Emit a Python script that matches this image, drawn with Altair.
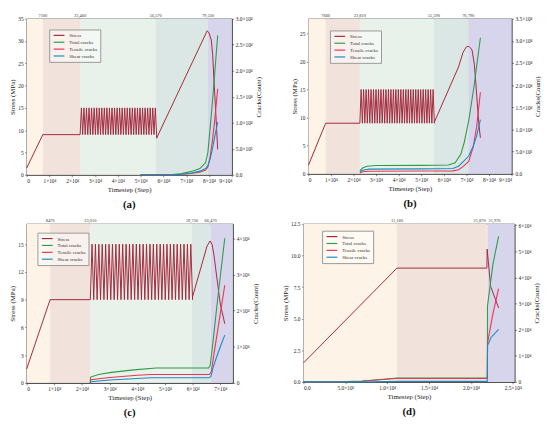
import altair as alt
import pandas as pd

FONT = "Liberation Serif"
SERIES = ["Stress", "Total cracks", "Tensile cracks", "Shear cracks"]
SERIES_COLORS = ["#a3283b", "#2f9c47", "#ec3451", "#1b8bc2"]
PEACH, BROWN, GREEN, TEAL, LAV = "#fdf4e7", "#f2e2dc", "#e9f1eb", "#dbe7e4", "#d7d5ec"

# ---------------- panel (a) ----------------
A_BOUNDS = [0, 7100, 23460, 56570, 79530, 90000]
A_BANDS = [PEACH, BROWN, GREEN, TEAL, LAV]
A_TOP_LABELS = ["7100", "23,460", "56,570", "79,530"]
A_TOP_ALIGN = ["center", "center", "center", "center"]
A_STRESS_PRE_X = [0, 7100, 23460]
A_STRESS_PRE_Y = [1.5, 9, 9]
A_CYCLES = [30, 9, 15]  # number of load cycles, trough, peak (MPa)
A_STRESS_POST_X = [57000, 79200, 80000, 81000, 81600, 82200, 83000, 83800]
A_STRESS_POST_Y = [8.2, 32.3, 31.8, 30.2, 27, 21, 13.5, 5.7]
A_CRACK_X = [50000, 60000, 64000, 68000, 72000, 76000, 78500, 79500, 80500, 81500, 82500, 83800]
A_TOTAL = [0, 0, 50, 250, 600, 1200, 2300, 4300, 9000, 14000, 19500, 26800]
A_TENSILE = [0, 0, 20, 100, 250, 500, 900, 1500, 3500, 6500, 10500, 16500]
A_SHEAR = [0, 0, 20, 100, 300, 700, 1200, 1800, 3000, 5000, 7300, 10100]

# ---------------- panel (b) ----------------
B_BOUNDS = [0, 7660, 22810, 55590, 70790, 90000]
B_BANDS = [PEACH, BROWN, GREEN, TEAL, LAV]
B_TOP_LABELS = ["7660", "22,810", "55,590", "70,790"]
B_TOP_ALIGN = ["center", "center", "center", "center"]
B_STRESS_PRE_X = [0, 7660, 22810]
B_STRESS_PRE_Y = [1.5, 9, 9]
B_CYCLES = [30, 9, 15]
B_STRESS_POST_X = [55800, 66500, 68500, 70000, 71000, 72000, 72500, 73500, 74200, 75000, 75600, 76200]
B_STRESS_POST_Y = [9.2, 19.0, 21.6, 22.6, 22.7, 22.3, 22.0, 19.5, 16, 11.5, 8.5, 6.4]
B_TOTAL_X = [22810, 24000, 26000, 30000, 50000, 62000, 65000, 67500, 69000, 71100, 73300, 76200]
B_TOTAL = [700, 1300, 1700, 1850, 1900, 2000, 2500, 4400, 7000, 12200, 19500, 30700]
B_SPLIT_X = [22810, 24000, 27000, 50000, 64000, 66500, 68500, 71000, 73000, 74500, 76200]
B_TENSILE = [200, 450, 580, 620, 650, 900, 1600, 2800, 6000, 10500, 18400]
B_SHEAR = [400, 800, 1050, 1100, 1200, 1700, 2700, 4000, 6200, 8500, 12200]

# ---------------- panel (c) ----------------
C_BOUNDS = [0, 8470, 23010, 59750, 66470, 74500]
C_BANDS = [PEACH, BROWN, GREEN, TEAL, LAV]
C_TOP_LABELS = ["8470", "23,010", "59,750", "66,470"]
C_TOP_ALIGN = ["center", "center", "center", "center"]
C_STRESS_PRE_X = [0, 8470, 23010]
C_STRESS_PRE_Y = [1.5, 9, 9]
C_CYCLES = [30, 9, 15]
C_STRESS_POST_X = [59950, 65200, 66300, 67000, 67700, 68900, 70000, 71600]
C_STRESS_POST_Y = [9.3, 14.8, 15.35, 15.0, 13.8, 11, 8.5, 6.4]
C_TOTAL_X = [23010, 23100, 26000, 30600, 38700, 46800, 65800, 66300, 67000, 69000, 71600]
C_TOTAL = [0, 1600, 2300, 2900, 3600, 4100, 4100, 4800, 9000, 23000, 40000]
C_TENSILE_X = [23010, 23100, 30000, 40000, 45000, 66000, 66700, 67700, 69400, 71600]
C_TENSILE = [0, 900, 1500, 2100, 2300, 2300, 3000, 8000, 16300, 27000]
C_SHEAR_X = [23010, 23100, 30000, 40000, 45000, 66000, 66600, 67300, 68300, 70000, 71600]
C_SHEAR = [0, 300, 800, 1200, 1400, 1400, 1800, 4000, 6400, 10000, 13200]

# ---------------- panel (d) ----------------
D_BOUNDS = [0, 11160, 21870, 21970, 25200]
D_BANDS = [PEACH, BROWN, BROWN, LAV]
D_TOP_LABELS = ["11,160", "21,870", "21,970"]
D_TOP_ALIGN = ["center", "right", "left"]
D_STRESS_PRE_X = [0, 11160, 21900]
D_STRESS_PRE_Y = [1.5, 9, 9]
D_CYCLES = [0, 9, 9]
D_STRESS_POST_X = [21930, 22350, 23300]
D_STRESS_POST_Y = [10.5, 7.55, 5.85]
D_TOTAL_X = [0, 4000, 7000, 9500, 11160, 21950, 21970, 22620, 23300]
D_TOTAL = [0, 0, 300, 1000, 1500, 1500, 29000, 45000, 55700]
D_TENSILE_X = [0, 4000, 7000, 9500, 11160, 21950, 21980, 22620, 23300]
D_TENSILE = [0, 0, 250, 900, 1300, 1300, 15000, 26000, 35700]
D_SHEAR_X = [0, 8000, 11160, 21950, 21980, 22400, 23300]
D_SHEAR = [0, 0, 200, 200, 14000, 17000, 20100]

LBL_E3E4 = ("datum.value == 0 ? '0.0' : datum.value < 10000 ? "
            "format(datum.value / 1000, '.1f') + '×10³' : format(datum.value / 10000, '.1f') + '×10⁴'")
LBL_E4 = "datum.value == 0 ? '0' : format(datum.value / 10000, 'd') + '×10⁴'"


def stress_frame(pre_x, pre_y, cyc, post_x, post_y):
    xs, ys = list(pre_x), list(pre_y)
    n, lo, hi = cyc
    if n:
        x0, x1 = pre_x[-1], post_x[0]
        T = (x1 - x0) / n
        for k in range(n):
            xs += [x0 + (k + 0.5) * T, x0 + (k + 1) * T]
            ys += [hi, lo]
    xs += post_x
    ys += post_y
    return pd.DataFrame({"x": xs, "y": ys, "s": "Stress", "i": range(len(xs))})


def crack_frame(series):
    rows = []
    for name, xs, ys in series:
        for i, (x, y) in enumerate(zip(xs, ys)):
            rows.append({"x": x, "y": y, "s": name, "i": i})
    return pd.DataFrame(rows)


def panel(W, H, xmax, xticks, xlab, ymax, yticks, ylab, rmax, rticks, rlab,
          bounds, bands, top_labels, top_align, sdf, cdf, lx, ly, caption):
    xs = alt.Scale(domain=[0, xmax], nice=False, zero=False)
    xaxis = alt.Axis(title="Timestep (Step)", values=xticks, labelExpr=xlab)
    color = alt.Color("s:N", scale=alt.Scale(domain=SERIES, range=SERIES_COLORS),
                      legend=alt.Legend(title=None, orient="none", legendX=lx, legendY=ly,
                                        symbolType="M-2,0H2", symbolSize=30, symbolStrokeWidth=1.2,
                                        symbolOffset=4, labelFont=FONT, labelFontSize=5,
                                        labelColor="#333", padding=2.5, rowPadding=0, labelOffset=7,
                                        strokeColor="#999", fillColor="rgba(255,255,255,0.5)"))
    band_df = pd.DataFrame({"x0": bounds[:-1], "x1": bounds[1:], "f": bands})
    band = alt.Chart(band_df).mark_rect().encode(
        x=alt.X("x0:Q", scale=xs, axis=xaxis), x2="x1:Q",
        y=alt.value(0), y2=alt.value(H), fill=alt.Fill("f:N", scale=None))
    stress = alt.Chart(sdf).mark_line(strokeWidth=1.0).encode(
        x=alt.X("x:Q", scale=xs, axis=xaxis),
        y=alt.Y("y:Q", scale=alt.Scale(domain=[0, ymax], nice=False),
                axis=alt.Axis(title="Stress (MPa)", values=yticks, labelExpr=ylab, orient="left")),
        color=color, order="i:Q")
    cracks = alt.Chart(cdf).mark_line(strokeWidth=1.1).encode(
        x=alt.X("x:Q", scale=xs, axis=xaxis),
        y=alt.Y("y:Q", scale=alt.Scale(domain=[0, rmax], nice=False),
                axis=alt.Axis(title="Cracks(Count)", values=rticks, labelExpr=rlab,
                              orient="right", titleAngle=270, titleBaseline="top")),
        color=color, detail="s:N", order="i:Q")
    tops = []
    for align in sorted(set(top_align)):
        tdf = pd.DataFrame({"x": [b for b, a in zip(bounds[1:], top_align) if a == align],
                            "t": [t for t, a in zip(top_labels, top_align) if a == align]})
        tops.append(alt.Chart(tdf).mark_text(font=FONT, fontSize=4.5, baseline="bottom",
                                             align=align, color="#333", dy=-1,
                                             dx={"left": 1, "right": -1, "center": 0}[align]).encode(
            x=alt.X("x:Q", scale=xs, axis=xaxis), y=alt.value(0), text="t:N"))
    return alt.layer(band, stress, cracks, *tops).resolve_scale(y="independent").properties(
        width=W, height=H,
        title=alt.TitleParams(caption, orient="bottom", fontSize=11, fontWeight="bold",
                              font=FONT, color="#111", offset=7, anchor="middle"))


pa = panel(209, 159, 90000, list(range(0, 90001, 10000)), LBL_E4,
           35, list(range(0, 36, 5)), "datum.value", 30000, list(range(0, 30001, 5000)), LBL_E3E4,
           A_BOUNDS, A_BANDS, A_TOP_LABELS, A_TOP_ALIGN,
           stress_frame(A_STRESS_PRE_X, A_STRESS_PRE_Y, A_CYCLES, A_STRESS_POST_X, A_STRESS_POST_Y),
           crack_frame([("Total cracks", A_CRACK_X, A_TOTAL), ("Tensile cracks", A_CRACK_X, A_TENSILE),
                        ("Shear cracks", A_CRACK_X, A_SHEAR)]),
           23, 11, "(a)")
pb = panel(207, 158, 90000, list(range(0, 90001, 10000)), LBL_E4,
           27.6, list(range(0, 26, 5)), "datum.value", 35000, list(range(0, 35001, 5000)), LBL_E3E4,
           B_BOUNDS, B_BANDS, B_TOP_LABELS, B_TOP_ALIGN,
           stress_frame(B_STRESS_PRE_X, B_STRESS_PRE_Y, B_CYCLES, B_STRESS_POST_X, B_STRESS_POST_Y),
           crack_frame([("Total cracks", B_TOTAL_X, B_TOTAL), ("Tensile cracks", B_SPLIT_X, B_TENSILE),
                        ("Shear cracks", B_SPLIT_X, B_SHEAR)]),
           22, 12, "(b)")
pc = panel(210, 162, 74500, list(range(0, 70001, 10000)), LBL_E4,
           17.2, list(range(0, 16, 3)), "datum.value", 44000, list(range(0, 40001, 10000)), LBL_E4,
           C_BOUNDS, C_BANDS, C_TOP_LABELS, C_TOP_ALIGN,
           stress_frame(C_STRESS_PRE_X, C_STRESS_PRE_Y, C_CYCLES, C_STRESS_POST_X, C_STRESS_POST_Y),
           crack_frame([("Total cracks", C_TOTAL_X, C_TOTAL), ("Tensile cracks", C_TENSILE_X, C_TENSILE),
                        ("Shear cracks", C_SHEAR_X, C_SHEAR)]),
           11, 9, "(c)")
pd_ = panel(215, 161, 25200, list(range(0, 25001, 5000)), LBL_E3E4,
            12.5, [0, 2.5, 5, 7.5, 10, 12.5], "format(datum.value, '.1f')",
            60500, list(range(0, 60001, 10000)), LBL_E4,
            D_BOUNDS, D_BANDS, D_TOP_LABELS, D_TOP_ALIGN,
            stress_frame(D_STRESS_PRE_X, D_STRESS_PRE_Y, D_CYCLES, D_STRESS_POST_X, D_STRESS_POST_Y),
            crack_frame([("Total cracks", D_TOTAL_X, D_TOTAL), ("Tensile cracks", D_TENSILE_X, D_TENSILE),
                         ("Shear cracks", D_SHEAR_X, D_SHEAR)]),
            19, 7, "(d)")

row1 = alt.hconcat(pa, pb, spacing=28).resolve_scale(color="independent")
row2 = alt.hconcat(pc, pd_, spacing=22).resolve_scale(color="independent")
chart = alt.vconcat(row1, row2, spacing=6).resolve_scale(color="independent").properties(
    padding={"left": 0, "top": 0, "right": 0, "bottom": 0}, background="white"
).configure_view(stroke="#333", strokeWidth=0.8).configure_axis(
    labelFont=FONT, titleFont=FONT, labelFontSize=5.5, titleFontSize=7, titleFontWeight="normal",
    tickSize=2, tickColor="#333", domainColor="#333", labelColor="#222", titleColor="#222",
    grid=False, labelPadding=1.5, titlePadding=2, domainWidth=0.8, tickWidth=0.6
)

chart.save("out.html", embed_options={"renderer": "svg", "actions": False})
